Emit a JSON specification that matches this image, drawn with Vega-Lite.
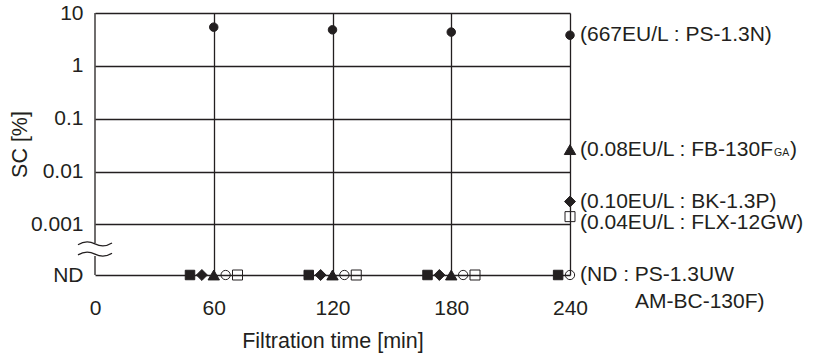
{
  "$schema": "https://vega.github.io/schema/vega-lite/v6.json",
  "width": 475,
  "height": 262,
  "autosize": {"type": "none"},
  "padding": {"left": 95, "top": 13, "right": 249, "bottom": 80},
  "background": "white",
  "config": {
    "view": {"stroke": null},
    "font": "Liberation Sans",
    "text": {"font": "Liberation Sans", "color": "#231f20"}
  },
  "datasets": {
    "points": [
      {"series": "PS-1.3N", "time": 60, "sc": 5.4},
      {"series": "PS-1.3N", "time": 120, "sc": 4.8},
      {"series": "PS-1.3N", "time": 180, "sc": 4.35},
      {"series": "PS-1.3N", "time": 240, "sc": 3.8},
      {"series": "FB-130FGA", "time": 60, "sc": 0.00011, "result": "ND"},
      {"series": "FB-130FGA", "time": 120, "sc": 0.00011, "result": "ND"},
      {"series": "FB-130FGA", "time": 180, "sc": 0.00011, "result": "ND"},
      {"series": "FB-130FGA", "time": 240, "sc": 0.026},
      {"series": "BK-1.3P", "time": 54, "sc": 0.00011, "result": "ND"},
      {"series": "BK-1.3P", "time": 114, "sc": 0.00011, "result": "ND"},
      {"series": "BK-1.3P", "time": 174, "sc": 0.00011, "result": "ND"},
      {"series": "BK-1.3P", "time": 240, "sc": 0.0027},
      {"series": "FLX-12GW", "time": 72, "sc": 0.00011, "result": "ND"},
      {"series": "FLX-12GW", "time": 132, "sc": 0.00011, "result": "ND"},
      {"series": "FLX-12GW", "time": 192, "sc": 0.00011, "result": "ND"},
      {"series": "FLX-12GW", "time": 240, "sc": 0.0014},
      {"series": "PS-1.3UW", "time": 48, "sc": 0.00011, "result": "ND"},
      {"series": "PS-1.3UW", "time": 108, "sc": 0.00011, "result": "ND"},
      {"series": "PS-1.3UW", "time": 168, "sc": 0.00011, "result": "ND"},
      {"series": "PS-1.3UW", "time": 234, "sc": 0.00011, "result": "ND"},
      {"series": "AM-BC-130F", "time": 66, "sc": 0.00011, "result": "ND"},
      {"series": "AM-BC-130F", "time": 126, "sc": 0.00011, "result": "ND"},
      {"series": "AM-BC-130F", "time": 186, "sc": 0.00011, "result": "ND"},
      {"series": "AM-BC-130F", "time": 240, "sc": 0.00011, "result": "ND"}
    ],
    "labels": [
      {"time": 240, "sc": 3.8, "text": "(667EU/L : PS-1.3N)"},
      {"time": 240, "sc": 0.026, "text": "(0.08EU/L : FB-130F"},
      {"time": 240, "sc": 0.0027, "text": "(0.10EU/L : BK-1.3P)"},
      {"time": 240, "sc": 0.00105, "text": "(0.04EU/L : FLX-12GW)"},
      {"time": 240, "sc": 0.00011, "text": "(ND : PS-1.3UW"}
    ]
  },
  "encoding": {
    "x": {
      "field": "time",
      "type": "quantitative",
      "scale": {"domain": [0, 240], "nice": false, "zero": false},
      "axis": {
        "title": "Filtration time [min]",
        "values": [0, 60, 120, 180, 240],
        "grid": true,
        "gridColor": "#231f20",
        "gridWidth": 1.3,
        "gridOpacity": {"condition": {"test": "datum.value === 0", "value": 0}, "value": 1},
        "domain": false,
        "ticks": false,
        "labelFlush": false,
        "labelOverlap": false,
        "labelPadding": 22,
        "labelFont": "Liberation Sans",
        "labelFontSize": 21,
        "labelColor": "#231f20",
        "titleFont": "Liberation Sans",
        "titleFontSize": 21.5,
        "titleFontWeight": "normal",
        "titleColor": "#231f20",
        "titlePadding": 12
      }
    },
    "y": {
      "field": "sc",
      "type": "quantitative",
      "scale": {"type": "log", "domain": [0.00011, 10], "nice": false},
      "axis": {
        "title": "SC [%]",
        "values": [10, 1, 0.1, 0.01, 0.001, 0.00011],
        "labelExpr": "datum.value < 0.0005 ? 'ND' : format(datum.value, '~g')",
        "grid": true,
        "gridColor": "#231f20",
        "gridWidth": 1.3,
        "gridOpacity": 1,
        "domain": false,
        "ticks": false,
        "labelFlush": false,
        "labelOverlap": false,
        "labelPadding": 12,
        "labelFont": "Liberation Sans",
        "labelFontSize": 21,
        "labelColor": "#231f20",
        "titleFont": "Liberation Sans",
        "titleFontSize": 21.5,
        "titleFontWeight": "normal",
        "titleColor": "#231f20",
        "titlePadding": -1
      }
    }
  },
  "layer": [
    {
      "data": {"values": [
        {"time": 0, "sc": 10, "sc2": 0.000444},
        {"time": 0, "sc": 0.000252, "sc2": 0.00011}
      ]},
      "mark": {"type": "rule", "color": "#231f20", "strokeWidth": 1.3},
      "encoding": {"y2": {"field": "sc2"}}
    },
    {
      "data": {"values": [{"time": 0, "sc": 0.000342}]},
      "mark": {
        "type": "point",
        "shape": "M-1,-0.25C-0.6,-0.5 -0.3,-0.45 0,-0.3C0.3,-0.15 0.6,-0.1 1,-0.35M-1,0.35C-0.6,0.1 -0.3,0.15 0,0.3C0.3,0.45 0.6,0.5 1,0.25",
        "filled": false,
        "size": 1156,
        "stroke": "#231f20",
        "strokeWidth": 1.3,
        "opacity": 1
      }
    },
    {
      "data": {"name": "points"},
      "mark": {"type": "point", "filled": true, "opacity": 1, "strokeWidth": 1},
      "encoding": {
        "shape": {
          "field": "series", "type": "nominal", "legend": null,
          "scale": {
            "domain": ["PS-1.3N", "FB-130FGA", "BK-1.3P", "FLX-12GW", "PS-1.3UW", "AM-BC-130F"],
            "range": ["circle", "triangle-up", "diamond", "square", "square", "circle"]
          }
        },
        "size": {
          "field": "series", "type": "nominal", "legend": null,
          "scale": {
            "type": "ordinal",
            "domain": ["PS-1.3N", "FB-130FGA", "BK-1.3P", "FLX-12GW", "PS-1.3UW", "AM-BC-130F"],
            "range": [72, 130, 120, 100, 90, 86]
          }
        },
        "fill": {
          "field": "series", "type": "nominal", "legend": null,
          "scale": {
            "domain": ["PS-1.3N", "FB-130FGA", "BK-1.3P", "FLX-12GW", "PS-1.3UW", "AM-BC-130F"],
            "range": ["#231f20", "#231f20", "#231f20", "transparent", "#231f20", "transparent"]
          }
        },
        "stroke": {"value": "#231f20"}
      }
    },
    {
      "data": {"name": "labels"},
      "mark": {"type": "text", "align": "left", "baseline": "middle", "dx": 10, "fontSize": 21, "font": "Liberation Sans", "color": "#231f20"},
      "encoding": {"text": {"field": "text"}}
    },
    {
      "data": {"values": [{"time": 240, "sc": 0.026, "text": "GA"}]},
      "mark": {"type": "text", "align": "left", "baseline": "alphabetic", "dx": 204, "dy": 6, "fontSize": 10.5, "font": "Liberation Sans", "color": "#231f20"},
      "encoding": {"text": {"field": "text"}}
    },
    {
      "data": {"values": [{"time": 240, "sc": 0.026, "text": ")"}]},
      "mark": {"type": "text", "align": "left", "baseline": "middle", "dx": 220, "fontSize": 21, "font": "Liberation Sans", "color": "#231f20"},
      "encoding": {"text": {"field": "text"}}
    },
    {
      "data": {"values": [{"time": 240, "sc": 0.00011, "text": "AM-BC-130F)"}]},
      "mark": {"type": "text", "align": "left", "baseline": "middle", "dx": 65, "dy": 27, "fontSize": 21, "font": "Liberation Sans", "color": "#231f20"},
      "encoding": {"text": {"field": "text"}}
    }
  ]
}
